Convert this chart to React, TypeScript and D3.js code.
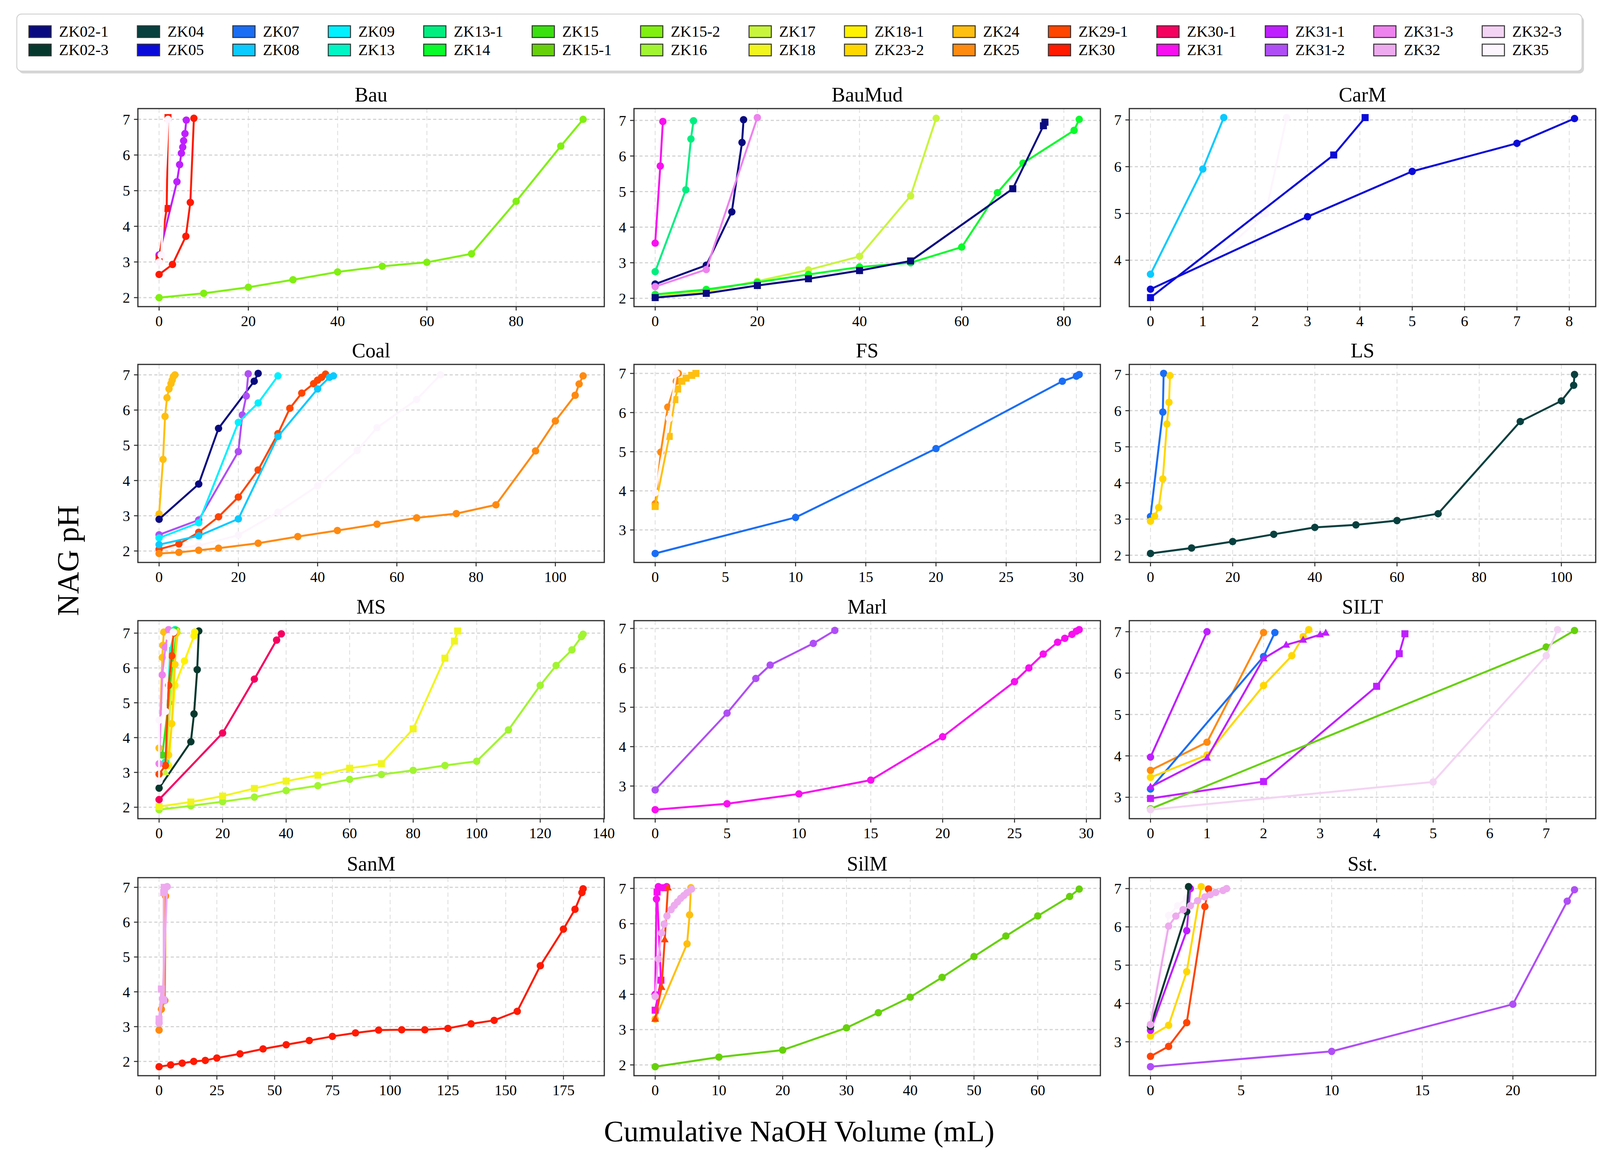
import React from 'react';
import * as d3 from 'd3';

type Mk = 'o' | 's' | '^';
interface Series { hole: string; mk: Mk; x: number[]; y: number[] }

// drill holes (legend order, column-major) and their colours
const holes = ['ZK02-1', 'ZK02-3', 'ZK04', 'ZK05', 'ZK07', 'ZK08', 'ZK09', 'ZK13', 'ZK13-1', 'ZK14',
  'ZK15', 'ZK15-1', 'ZK15-2', 'ZK16', 'ZK17', 'ZK18', 'ZK18-1', 'ZK23-2', 'ZK24', 'ZK25',
  'ZK29-1', 'ZK30', 'ZK30-1', 'ZK31', 'ZK31-1', 'ZK31-2', 'ZK31-3', 'ZK32', 'ZK32-3', 'ZK35'];
const holeColors = ['#0a0a80', '#06382e', '#07403f', '#0b0bd9', '#1a6ef5', '#0acaff', '#00f0ff', '#00f5c5', '#00ee80', '#09fb2c',
  '#3ae010', '#66d10a', '#80f010', '#a0f530', '#c8f53c', '#f0f520', '#fff200', '#ffd700', '#ffbf10', '#ff8a10',
  '#ff4500', '#ff1a00', '#f5005f', '#f810f0', '#bf1fff', '#b04ef6', '#ee82ee', '#eeaaee', '#f4d4f4', '#fdf5fd'];

const bauSeries: Series[] = [
  { hole: 'ZK15-2', mk: 'o', x: [0, 10, 20, 30, 40, 50, 60, 70, 80, 90, 95], y: [2.0, 2.12, 2.29, 2.5, 2.72, 2.88, 2.99, 3.23, 4.7, 6.25, 7.0] },
  { hole: 'ZK30', mk: 'o', x: [0, 3, 6, 7, 7.8], y: [2.65, 2.93, 3.72, 4.67, 7.03] },
  { hole: 'ZK31-1', mk: 'o', x: [0, 4, 4.6, 5, 5.3, 5.5, 5.8, 6.1], y: [3.2, 5.25, 5.73, 6.05, 6.22, 6.4, 6.6, 6.98] },
  { hole: 'ZK30', mk: 's', x: [0, 1.7, 2], y: [3.1, 4.5, 7.05] },
  { hole: 'ZK35', mk: 'o', x: [0, 0.5, 2], y: [3.0, 3.2, 7.0] },
];
const bauMudSeries: Series[] = [
  { hole: 'ZK31', mk: 'o', x: [0, 1, 1.5], y: [3.55, 5.72, 6.97] },
  { hole: 'ZK13-1', mk: 'o', x: [0, 6, 7, 7.5], y: [2.75, 5.05, 6.48, 6.99] },
  { hole: 'ZK02-1', mk: 'o', x: [0, 10, 15, 17, 17.3], y: [2.4, 2.93, 4.43, 6.38, 7.02] },
  { hole: 'ZK31-3', mk: 'o', x: [0, 10, 20], y: [2.33, 2.81, 7.08] },
  { hole: 'ZK17', mk: 'o', x: [0, 10, 20, 30, 40, 50, 55], y: [2.07, 2.2, 2.48, 2.8, 3.18, 4.88, 7.06] },
  { hole: 'ZK14', mk: 'o', x: [0, 10, 20, 30, 40, 50, 60, 67, 72, 82, 83], y: [2.11, 2.25, 2.45, 2.67, 2.88, 3.0, 3.44, 4.97, 5.8, 6.72, 7.03] },
  { hole: 'ZK02-1', mk: 's', x: [0, 10, 20, 30, 40, 50, 70, 76, 76.3], y: [2.02, 2.14, 2.36, 2.55, 2.78, 3.05, 5.08, 6.85, 6.95] },
];
const carMSeries: Series[] = [
  { hole: 'ZK35', mk: 'o', x: [0, 1.2, 2.2, 2.6], y: [3.3, 4.0, 5.0, 7.05] },
  { hole: 'ZK08', mk: 'o', x: [0, 1, 1.4], y: [3.7, 5.95, 7.05] },
  { hole: 'ZK05', mk: 's', x: [0, 3.5, 4.1], y: [3.2, 6.25, 7.05] },
  { hole: 'ZK05', mk: 'o', x: [0, 3, 5, 7, 8.1], y: [3.38, 4.93, 5.9, 6.5, 7.03] },
];
const coalSeries: Series[] = [
  { hole: 'ZK35', mk: 'o', x: [0, 10, 20, 30, 40, 50, 55, 65, 71], y: [2.03, 2.15, 2.45, 3.1, 3.85, 4.85, 5.5, 6.3, 7.0] },
  { hole: 'ZK24', mk: 'o', x: [0, 1, 1.5, 2, 2.5, 3, 3.3, 3.6, 4], y: [3.05, 4.6, 5.82, 6.35, 6.6, 6.75, 6.85, 6.95, 7.0] },
  { hole: 'ZK02-1', mk: 'o', x: [0, 10, 15, 24, 25], y: [2.9, 3.9, 5.48, 6.82, 7.04] },
  { hole: 'ZK31-2', mk: 'o', x: [0, 10, 20, 21, 22, 22.5], y: [2.46, 2.88, 4.82, 5.86, 6.4, 7.03] },
  { hole: 'ZK09', mk: 'o', x: [0, 10, 20, 25, 30], y: [2.37, 2.8, 5.65, 6.2, 6.97] },
  { hole: 'ZK29-1', mk: 'o', x: [0, 5, 10, 15, 20, 25, 30, 33, 36, 39, 40, 41, 42], y: [2.05, 2.2, 2.53, 2.97, 3.53, 4.3, 5.33, 6.05, 6.48, 6.75, 6.85, 6.93, 7.02] },
  { hole: 'ZK08', mk: 'o', x: [0, 10, 20, 30, 40, 43, 44], y: [2.18, 2.43, 2.91, 5.25, 6.6, 6.93, 6.97] },
  { hole: 'ZK25', mk: 'o', x: [0, 5, 10, 15, 25, 35, 45, 55, 65, 75, 85, 95, 100, 105, 106, 107], y: [1.93, 1.96, 2.02, 2.08, 2.22, 2.41, 2.58, 2.76, 2.94, 3.06, 3.31, 4.84, 5.69, 6.42, 6.74, 6.97] },
];
const fsSeries: Series[] = [
  { hole: 'ZK07', mk: 'o', x: [0, 10, 20, 29, 30, 30.2], y: [2.4, 3.32, 5.08, 6.8, 6.93, 6.97] },
  { hole: 'ZK25', mk: 'o', x: [0, 0.4, 0.9, 1.5, 1.65], y: [3.67, 4.99, 6.14, 6.8, 7.0] },
  { hole: 'ZK24', mk: 's', x: [0, 1.0, 1.4, 1.6, 1.9, 2.2, 2.6, 2.9], y: [3.6, 5.39, 6.33, 6.6, 6.8, 6.88, 6.95, 7.0] },
  { hole: 'ZK35', mk: 'o', x: [0, 1, 1.5], y: [3.95, 5.85, 7.0] },
];
const lsSeries: Series[] = [
  { hole: 'ZK07', mk: 'o', x: [0, 3, 3.2], y: [3.07, 5.96, 7.03] },
  { hole: 'ZK23-2', mk: 'o', x: [0, 1, 2, 3, 4, 4.5, 4.75], y: [2.94, 3.08, 3.32, 4.11, 5.63, 6.23, 6.97] },
  { hole: 'ZK04', mk: 'o', x: [0, 10, 20, 30, 40, 50, 60, 70, 90, 100, 103, 103.2], y: [2.05, 2.2, 2.38, 2.58, 2.77, 2.84, 2.96, 3.15, 5.7, 6.27, 6.7, 7.0] },
];
const msSeries: Series[] = [
  { hole: 'ZK16', mk: 'o', x: [0, 10, 20, 30, 40, 50, 60, 70, 80, 90, 100, 110, 120, 125, 130, 133, 133.5], y: [1.93, 2.04, 2.16, 2.29, 2.48, 2.62, 2.8, 2.94, 3.06, 3.2, 3.32, 4.22, 5.5, 6.07, 6.52, 6.9, 6.97] },
  { hole: 'ZK18', mk: 's', x: [0, 10, 20, 30, 40, 50, 60, 70, 80, 90, 93, 94], y: [2.02, 2.15, 2.32, 2.54, 2.75, 2.92, 3.12, 3.25, 4.25, 6.28, 6.77, 7.06] },
  { hole: 'ZK30-1', mk: 'o', x: [0, 20, 30, 37, 38.5], y: [2.22, 4.13, 5.68, 6.8, 6.98] },
  { hole: 'ZK02-3', mk: 'o', x: [0, 10, 11, 12, 12.5], y: [2.55, 3.88, 4.68, 5.95, 7.06] },
  { hole: 'ZK18-1', mk: 'o', x: [3, 5, 8, 11, 11.2], y: [3.2, 5.5, 6.2, 6.92, 7.03] },
  { hole: 'ZK13', mk: 'o', x: [2, 3.5, 5], y: [3.3, 6.5, 7.1] },
  { hole: 'ZK15', mk: 'o', x: [1, 3, 5.5], y: [3.5, 5.0, 7.08] },
  { hole: 'ZK17', mk: '^', x: [2, 4, 6], y: [3.0, 5.5, 7.05] },
  { hole: 'ZK23-2', mk: 'o', x: [3, 4, 5, 5.5], y: [3.5, 4.4, 6.1, 7.0] },
  { hole: 'ZK29-1', mk: 'o', x: [0, 2, 3, 4, 4.5], y: [2.95, 3.2, 5.5, 6.35, 7.0] },
  { hole: 'ZK24', mk: 'o', x: [0, 1, 1.2, 1.5], y: [3.7, 6.3, 6.65, 7.03] },
  { hole: 'ZK31-3', mk: 'o', x: [0, 1, 2, 3], y: [3.25, 5.8, 6.6, 7.1] },
  { hole: 'ZK35', mk: 'o', x: [0, 0, 2, 3, 4.5], y: [2.75, 4.5, 4.75, 6.9, 7.03] },
];
const marlSeries: Series[] = [
  { hole: 'ZK31', mk: 'o', x: [0, 5, 10, 15, 20, 25, 26, 27, 28, 28.5, 29, 29.3, 29.5], y: [2.4, 2.55, 2.8, 3.15, 4.25, 5.65, 6.0, 6.35, 6.65, 6.75, 6.85, 6.93, 6.97] },
  { hole: 'ZK31-2', mk: 'o', x: [0, 5, 7, 8, 11, 12.5], y: [2.9, 4.85, 5.73, 6.07, 6.62, 6.95] },
];
const siltSeries: Series[] = [
  { hole: 'ZK31-1', mk: 'o', x: [0, 1], y: [3.97, 7.0] },
  { hole: 'ZK25', mk: 'o', x: [0, 1, 2], y: [3.65, 4.33, 6.98] },
  { hole: 'ZK07', mk: 'o', x: [0, 2, 2.2], y: [3.2, 6.4, 6.98] },
  { hole: 'ZK23-2', mk: 'o', x: [0, 1, 2, 2.5, 2.7, 2.8], y: [3.48, 4.02, 5.7, 6.42, 6.88, 7.05] },
  { hole: 'ZK31-1', mk: '^', x: [0, 1, 2, 2.4, 2.7, 3, 3.1], y: [3.25, 3.95, 6.35, 6.68, 6.8, 6.93, 6.97] },
  { hole: 'ZK31-1', mk: 's', x: [0, 2, 4, 4.4, 4.5], y: [2.97, 3.38, 5.68, 6.47, 6.95] },
  { hole: 'ZK15-1', mk: 'o', x: [0, 7, 7.5], y: [2.72, 6.63, 7.03] },
  { hole: 'ZK32-3', mk: 'o', x: [0, 5, 7, 7.2], y: [2.7, 3.37, 6.42, 7.05] },
];
const sanMSeries: Series[] = [
  { hole: 'ZK30', mk: 'o', x: [0, 5, 10, 15, 20, 25, 35, 45, 55, 65, 75, 85, 95, 105, 115, 125, 135, 145, 155, 165, 175, 180, 183, 183.5], y: [1.85, 1.9, 1.95, 2.0, 2.03, 2.1, 2.22, 2.36, 2.48, 2.6, 2.72, 2.82, 2.9, 2.91, 2.91, 2.95, 3.08, 3.18, 3.44, 4.75, 5.8, 6.37, 6.85, 6.96] },
  { hole: 'ZK25', mk: 'o', x: [0, 1, 2.5, 2.8], y: [2.9, 3.5, 3.75, 6.75] },
  { hole: 'ZK32', mk: 's', x: [0, 1, 2, 2, 2.2], y: [3.22, 4.08, 3.76, 6.85, 7.0] },
  { hole: 'ZK32', mk: 'o', x: [0, 1.5, 3.5], y: [3.1, 3.8, 7.02] },
];
const silMSeries: Series[] = [
  { hole: 'ZK15-1', mk: 'o', x: [0, 10, 20, 30, 35, 40, 45, 50, 55, 60, 65, 66.5], y: [1.95, 2.22, 2.42, 3.05, 3.48, 3.92, 4.48, 5.07, 5.65, 6.22, 6.77, 6.98] },
  { hole: 'ZK24', mk: 'o', x: [0, 5, 5.4, 5.6], y: [3.3, 5.43, 6.25, 7.02] },
  { hole: 'ZK31', mk: 's', x: [0, 0.9, 0.3, 1.5], y: [3.55, 4.4, 6.9, 7.02] },
  { hole: 'ZK31', mk: 'o', x: [0, 0.2, 0.5, 1.8], y: [4.0, 6.7, 7.05, 7.05] },
  { hole: 'ZK29-1', mk: '^', x: [0, 1, 1.5, 2], y: [3.3, 4.2, 5.55, 7.02] },
  { hole: 'ZK32', mk: 'o', x: [0, 0.5, 1, 1.4, 1.85, 2.5, 3, 3.5, 4, 4.5, 5, 5.7], y: [3.94, 5.0, 5.74, 5.99, 6.22, 6.4, 6.52, 6.62, 6.72, 6.8, 6.88, 6.98] },
];
const sstSeries: Series[] = [
  { hole: 'ZK31-2', mk: 'o', x: [0, 10, 20, 23, 23.4], y: [2.35, 2.75, 3.98, 6.67, 6.97] },
  { hole: 'ZK29-1', mk: 'o', x: [0, 1, 2, 3, 3.2], y: [2.62, 2.88, 3.5, 6.53, 6.99] },
  { hole: 'ZK23-2', mk: 'o', x: [0, 1, 2, 2.8], y: [3.15, 3.43, 4.83, 7.05] },
  { hole: 'ZK35', mk: 'o', x: [0, 1, 1.5, 2, 2.2], y: [3.5, 6.3, 6.55, 6.75, 7.0] },
  { hole: 'ZK31-1', mk: 'o', x: [0, 2, 2.2], y: [3.3, 5.9, 7.0] },
  { hole: 'ZK02-3', mk: 'o', x: [0, 2, 2.1], y: [3.4, 6.4, 7.05] },
  { hole: 'ZK32', mk: 'o', x: [0, 1, 1.4, 1.8, 2.2, 2.6, 3, 3.3, 3.6, 4, 4.2], y: [3.45, 6.02, 6.28, 6.45, 6.55, 6.68, 6.78, 6.84, 6.9, 6.95, 7.0] },
];

const panelTitles = ['Bau', 'BauMud', 'CarM', 'Coal', 'FS', 'LS', 'MS', 'Marl', 'SILT', 'SanM', 'SilM', 'Sst.'];
const panelSeries = [bauSeries, bauMudSeries, carMSeries, coalSeries, fsSeries, lsSeries, msSeries, marlSeries, siltSeries, sanMSeries, silMSeries, sstSeries];
const xTickSteps = [20, 20, 1, 20, 5, 20, 20, 5, 1, 25, 10, 5];

// layout (px)
const W = 4124, H = 2975;
const colLeft = [353, 1623, 2891];
const rowTop = [278, 933, 1589, 2247];
const PW = 1194, PH = 507;
const FONT = 'Liberation Serif, Times New Roman, serif';

const colorOf = (h: string) => holeColors[holes.indexOf(h)] ?? '#000';

// matplotlib-style auto limits: data extent + 5% each side
const padExtent = (vals: number[]): [number, number] => {
  const [lo, hi] = d3.extent(vals) as [number, number];
  const m = (hi - lo) * 0.05;
  return [lo - m, hi + m];
};

const Marker: React.FC<{ mk: Mk; cx: number; cy: number; color: string }> = ({ mk, cx, cy, color }) => {
  if (mk === 's') return <rect x={cx - 9} y={cy - 9} width={18} height={18} fill={color} />;
  if (mk === '^') return <path d={`M${cx},${cy - 11}L${cx + 10},${cy + 7}L${cx - 10},${cy + 7}Z`} fill={color} />;
  return <circle cx={cx} cy={cy} r={9.5} fill={color} />;
};

const Panel: React.FC<{ idx: number }> = ({ idx }) => {
  const series = panelSeries[idx];
  const left = colLeft[idx % 3], top = rowTop[Math.floor(idx / 3)];
  const xd = padExtent(series.flatMap(s => s.x));
  const yd = padExtent(series.flatMap(s => s.y));
  const x = d3.scaleLinear().domain(xd).range([0, PW]);
  const y = d3.scaleLinear().domain(yd).range([PH, 0]);
  const step = xTickSteps[idx];
  const xt = d3.range(Math.ceil(xd[0] / step) * step, xd[1] + 1e-9, step);
  const yt = d3.range(Math.ceil(yd[0]), Math.floor(yd[1]) + 1, 1);
  const clipId = `clip${idx}`;
  return (
    <g transform={`translate(${left},${top})`}>
      <defs>
        <clipPath id={clipId}><rect x={-12} y={-12} width={PW + 24} height={PH + 24} /></clipPath>
      </defs>
      <text x={PW / 2} y={-18} textAnchor="middle" fontSize={52} fontFamily={FONT}>{panelTitles[idx]}</text>
      {xt.map(t => (
        <line key={`gx${t}`} x1={x(t)} x2={x(t)} y1={0} y2={PH} stroke="#dcdcdc" strokeWidth={2} strokeDasharray="11,8" />
      ))}
      {yt.map(t => (
        <line key={`gy${t}`} x1={0} x2={PW} y1={y(t)} y2={y(t)} stroke="#d4d4d4" strokeWidth={3} strokeDasharray="8,6" />
      ))}
      <g clipPath={`url(#${clipId})`}>
        {series.map((s, si) => {
          const c = colorOf(s.hole);
          const pts = s.x.map((v, i) => [x(v), y(s.y[i])] as [number, number]);
          const d = d3.line()(pts) ?? '';
          return (
            <g key={si}>
              <path d={d} fill="none" stroke={c} strokeWidth={5} strokeLinejoin="round" />
              {pts.map((p, i) => <Marker key={i} mk={s.mk} cx={p[0]} cy={p[1]} color={c} />)}
            </g>
          );
        })}
      </g>
      <rect x={0} y={0} width={PW} height={PH} fill="none" stroke="#2b2b2b" strokeWidth={3} />
      {xt.map(t => (
        <g key={`xt${t}`} transform={`translate(${x(t)},${PH})`}>
          <line y1={0} y2={10} stroke="#2b2b2b" strokeWidth={2.5} />
          <text y={50} textAnchor="middle" fontSize={38} fontFamily={FONT}>{d3.format('d')(t)}</text>
        </g>
      ))}
      {yt.map(t => (
        <g key={`yt${t}`} transform={`translate(0,${y(t)})`}>
          <line x1={0} x2={-10} stroke="#2b2b2b" strokeWidth={2.5} />
          <text x={-20} dy="0.35em" textAnchor="end" fontSize={38} fontFamily={FONT}>{t}</text>
        </g>
      ))}
    </g>
  );
};

const measureText = (() => {
  let ctx: CanvasRenderingContext2D | null = null;
  return (t: string, size: number) => {
    if (!ctx && typeof document !== 'undefined') ctx = document.createElement('canvas').getContext('2d');
    if (!ctx) return t.length * size * 0.5;
    ctx.font = `${size}px "Liberation Serif"`;
    return ctx.measureText(t).width;
  };
})();

const Legend: React.FC = () => {
  const nCols = Math.ceil(holes.length / 2);
  const patchW = 57, patchH = 30, gap = 20, colSpace = 74, fs = 40;
  const rowY = [81, 128];
  const cols = d3.range(nCols).map(c => holes.slice(c * 2, c * 2 + 2));
  let cx = 74;
  const colX = cols.map(hs => {
    const here = cx;
    cx += patchW + gap + d3.max(hs, h => measureText(h, fs))! + colSpace;
    return here;
  });
  return (
    <g>
      <rect x={48} y={42} width={4007} height={146} rx={12} fill="#d6d6d6" />
      <rect x={43} y={36} width={4007} height={146} rx={12} fill="#fff" stroke="#d2d2d2" strokeWidth={2.5} />
      {cols.map((hs, c) => hs.map((h, r) => (
        <g key={h} transform={`translate(${colX[c]},${rowY[r]})`}>
          <rect x={0} y={-patchH / 2} width={patchW} height={patchH} fill={colorOf(h)} stroke="#333" strokeWidth={2.5} />
          <text x={patchW + gap} y={13} fontSize={fs} fontFamily={FONT}>{h}</text>
        </g>
      )))}
    </g>
  );
};

const App: React.FC = () => (
  <div style={{ position: 'absolute', left: 0, top: 0, background: '#fff' }}>
    <svg width={W} height={H} viewBox={`0 0 ${W} ${H}`} style={{ display: 'block' }}>
      <rect width={W} height={H} fill="#fff" />
      <Legend />
      {panelTitles.map((_, i) => <Panel key={i} idx={i} />)}
      <text transform="translate(200,1435) rotate(-90)" textAnchor="middle" fontSize={78} fontFamily={FONT}>NAG pH</text>
      <text x={2046} y={2922} textAnchor="middle" fontSize={76} fontFamily={FONT}>Cumulative NaOH Volume (mL)</text>
    </svg>
  </div>
);

export default App;
